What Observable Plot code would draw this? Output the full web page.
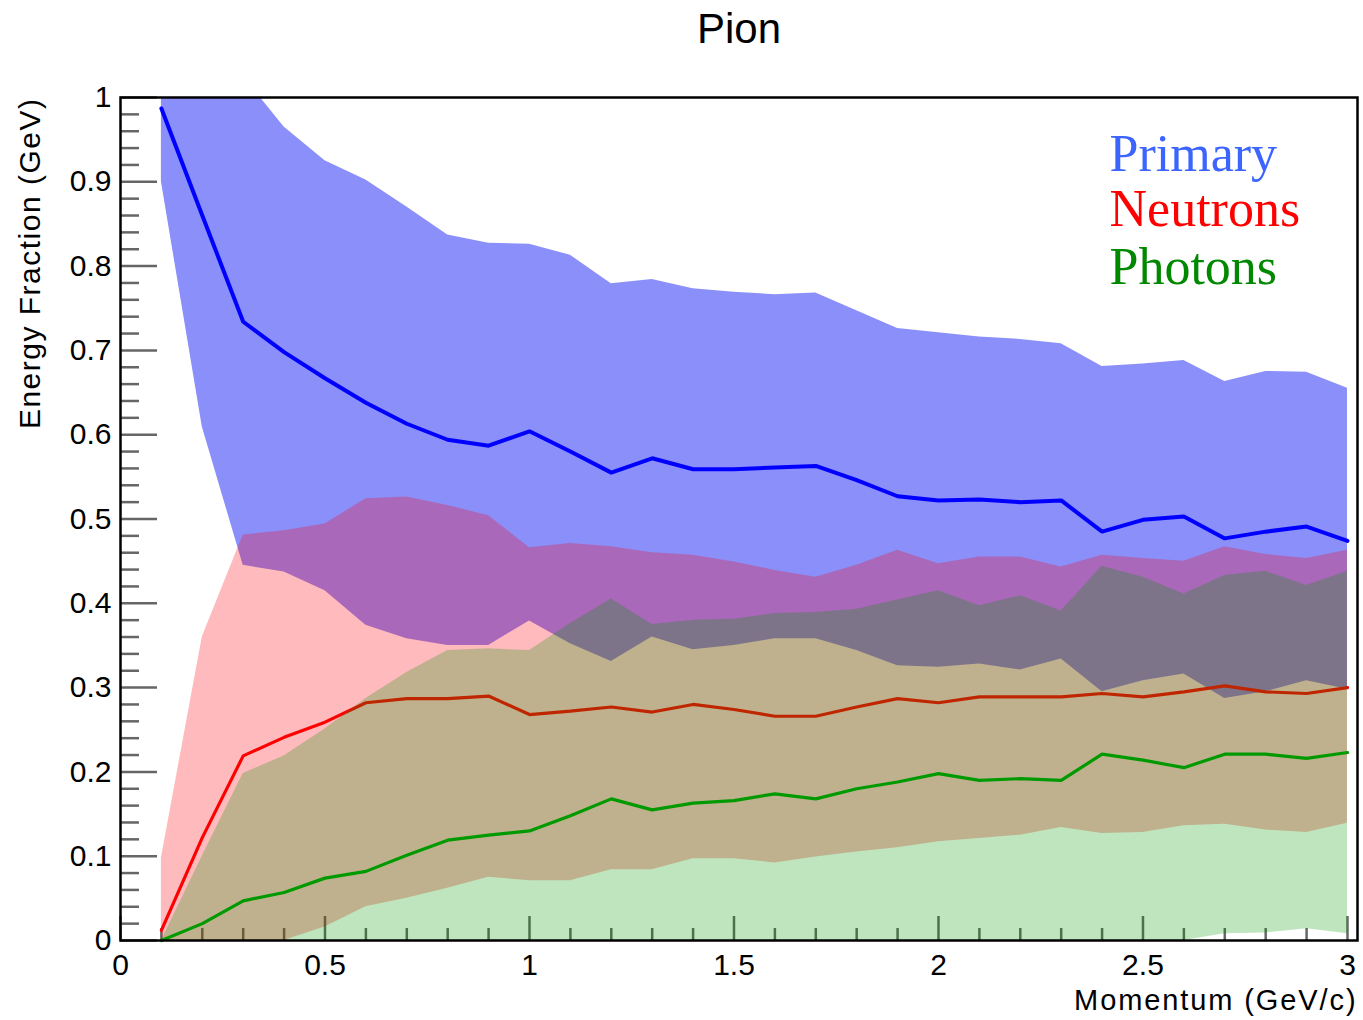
<!DOCTYPE html>
<html>
<head>
<meta charset="utf-8">
<title>Pion</title>
<script src="https://cdn.jsdelivr.net/npm/d3@7"></script>
<script src="https://cdn.jsdelivr.net/npm/@observablehq/plot@0.6"></script>
<style>
  html, body { margin: 0; padding: 0; background: #ffffff; }
  #chart { width: 1363px; height: 1020px; }
</style>
</head>
<body>
<div id="chart"></div>
<script>
// Energy fractions carried by the primary pion, neutrons and photons
const title = "Pion";
const xLabel = "Momentum (GeV/c)";
const yLabel = "Energy Fraction (GeV)";

const momentum = [0.1, 0.2, 0.3, 0.4, 0.5, 0.6, 0.7, 0.8, 0.9, 1.0,
                  1.1, 1.2, 1.3, 1.4, 1.5, 1.6, 1.7, 1.8, 1.9, 2.0,
                  2.1, 2.2, 2.3, 2.4, 2.5, 2.6, 2.7, 2.8, 2.9, 3.0];

// Primary: mean with the band edges
const primaryMean = [0.987, 0.860, 0.734, 0.698, 0.667, 0.638, 0.613, 0.594, 0.587, 0.604,
                     0.580, 0.555, 0.572, 0.559, 0.559, 0.561, 0.563, 0.546, 0.527, 0.522,
                     0.523, 0.520, 0.522, 0.485, 0.499, 0.503, 0.477, 0.485, 0.491, 0.474];
const primaryHigh = [1.070, 1.050, 1.025, 0.965, 0.925, 0.902, 0.870, 0.837, 0.827, 0.826,
                     0.813, 0.779, 0.784, 0.773, 0.769, 0.766, 0.768, 0.747, 0.726, 0.721,
                     0.716, 0.713, 0.708, 0.681, 0.684, 0.688, 0.663, 0.675, 0.674, 0.655];
const primaryLow  = [0.900, 0.609, 0.445, 0.437, 0.415, 0.374, 0.358, 0.350, 0.350, 0.379,
                     0.352, 0.331, 0.360, 0.345, 0.350, 0.358, 0.358, 0.344, 0.326, 0.324,
                     0.328, 0.321, 0.334, 0.295, 0.308, 0.316, 0.287, 0.295, 0.308, 0.298];

// Neutrons
const neutronMean = [0.012, 0.122, 0.219, 0.241, 0.259, 0.282, 0.287, 0.287, 0.290, 0.268,
                     0.272, 0.277, 0.271, 0.280, 0.274, 0.266, 0.266, 0.277, 0.287, 0.282,
                     0.289, 0.289, 0.289, 0.293, 0.289, 0.295, 0.302, 0.295, 0.293, 0.300];
const neutronHigh = [0.098, 0.360, 0.481, 0.486, 0.494, 0.524, 0.526, 0.516, 0.504, 0.466,
                     0.471, 0.467, 0.460, 0.457, 0.449, 0.439, 0.431, 0.445, 0.463, 0.447,
                     0.455, 0.455, 0.443, 0.457, 0.453, 0.450, 0.467, 0.458, 0.453, 0.463];
const neutronLow  = [0.000, 0.000, 0.000, 0.000, 0.016, 0.040, 0.050, 0.062, 0.075, 0.071,
                     0.071, 0.084, 0.084, 0.097, 0.097, 0.092, 0.099, 0.105, 0.110, 0.117,
                     0.121, 0.125, 0.134, 0.127, 0.128, 0.136, 0.138, 0.131, 0.128, 0.139];

// Photons
const photonMean = [0.000, 0.020, 0.047, 0.057, 0.074, 0.082, 0.101, 0.119, 0.125, 0.130,
                    0.148, 0.168, 0.155, 0.163, 0.166, 0.174, 0.168, 0.180, 0.188, 0.198,
                    0.190, 0.192, 0.190, 0.221, 0.214, 0.205, 0.221, 0.221, 0.216, 0.223];
const photonHigh = [0.000, 0.100, 0.198, 0.219, 0.251, 0.287, 0.318, 0.344, 0.346, 0.344,
                    0.376, 0.405, 0.375, 0.380, 0.381, 0.388, 0.389, 0.393, 0.404, 0.415,
                    0.397, 0.409, 0.391, 0.444, 0.431, 0.411, 0.433, 0.438, 0.421, 0.438];
const photonLow  = [0.000, 0.000, 0.000, 0.000, 0.000, 0.000, 0.000, 0.000, 0.000, 0.000,
                    0.000, 0.000, 0.000, 0.000, 0.000, 0.000, 0.000, 0.000, 0.000, 0.000,
                    0.000, 0.000, 0.000, 0.000, 0.000, 0.000, 0.008, 0.009, 0.014, 0.008];

const seriesNames = ["Primary", "Neutrons", "Photons"];

const xTickLabels = [0, 0.5, 1, 1.5, 2, 2.5, 3];
const yTickLabels = [0, 0.1, 0.2, 0.3, 0.4, 0.5, 0.6, 0.7, 0.8, 0.9, 1];

// Styling per series: translucent band, mean line, legend colour
const styles = {
  Primary:  {band: "rgb(0,10,245)", bandOpacity: 0.46, line: "#0000ff", width: 4,   legend: "#3c64ff"},
  Neutrons: {band: "rgb(255,0,10)", bandOpacity: 0.27, line: "#ff0000", width: 3.2, legend: "#ff0000"},
  Photons:  {band: "rgb(0,153,0)",  bandOpacity: 0.25, line: "#009a00", width: 3.2, legend: "#008800"}
};

const columns = {
  Primary:  [primaryMean, primaryLow, primaryHigh],
  Neutrons: [neutronMean, neutronLow, neutronHigh],
  Photons:  [photonMean, photonLow, photonHigh]
};

const rowsFor = (name) => {
  const [mean, low, high] = columns[name];
  return momentum.map((p, i) => ({p, mean: mean[i], low: low[i], high: high[i]}));
};

// Minor ticks: every 0.02 on y, every 0.1 on x
const yMinor = d3.range(0, 51).map(i => i / 50).filter(v => Math.abs(v * 10 - Math.round(v * 10)) > 1e-9);
const xMinor = d3.range(0, 31).map(i => i / 10).filter(v => Math.abs(v * 2 - Math.round(v * 2)) > 1e-9);

const tickColor = "#666666";
const sans = "'Liberation Sans', Arial, Helvetica, sans-serif";
const serif = "'Liberation Serif', 'Times New Roman', serif";

const marks = [
  Plot.ruleY(yMinor, {x1: 0, x2: 0, insetRight: -19, stroke: tickColor, strokeWidth: 2.5}),
  Plot.ruleY(yTickLabels, {x1: 0, x2: 0, insetRight: -37, stroke: tickColor, strokeWidth: 2.5}),
  Plot.ruleX(xMinor, {y1: 0, y2: 0, insetTop: -12, stroke: tickColor, strokeWidth: 2.5}),
  Plot.ruleX(xTickLabels, {y1: 0, y2: 0, insetTop: -24, stroke: tickColor, strokeWidth: 2.5})
];

for (const name of seriesNames) {
  const s = styles[name];
  const rows = rowsFor(name);
  marks.push(
    Plot.areaY(rows, {x: "p", y1: "low", y2: "high", fill: s.band, fillOpacity: s.bandOpacity, curve: "linear", clip: true}),
    Plot.line(rows, {x: "p", y: "mean", stroke: s.line, strokeWidth: s.width, curve: "linear", strokeLinejoin: "miter"})
  );
}

marks.push(
  Plot.frame({stroke: "#000000", strokeWidth: 2.5}),
  // tick labels
  Plot.text(yTickLabels, {x: 0, y: d => d, text: d => String(d), textAnchor: "end", lineAnchor: "middle", dx: -9, fontSize: 30, fill: "#000"}),
  Plot.text(xTickLabels, {x: d => d, y: 0, text: d => String(d), textAnchor: "middle", lineAnchor: "bottom", dy: 34, fontSize: 30, fill: "#000"}),
  // titles
  Plot.text([title], {text: d => d, frameAnchor: "top", lineAnchor: "bottom", dy: -55, fontSize: 42, fill: "#000"}),
  Plot.text([xLabel], {text: d => d, frameAnchor: "bottom-right", textAnchor: "end", lineAnchor: "bottom", dy: 69, fontSize: 29, fill: "#000"}),
  Plot.text([yLabel], {text: d => d, frameAnchor: "top-left", textAnchor: "end", lineAnchor: "middle", rotate: -90, dx: -90, fontSize: 30, fill: "#000"})
);

// legend entries, stacked in the upper right of the frame
seriesNames.forEach((name, i) => {
  marks.push(Plot.text([name], {
    text: d => d, frameAnchor: "top-left", textAnchor: "start", lineAnchor: "bottom",
    dx: 989, dy: [73, 128, 186][i], fontSize: 52, fontFamily: serif, fill: styles[name].legend
  }));
});

const chart = Plot.plot({
  width: 1363,
  height: 1020,
  marginTop: 97,
  marginRight: 6,
  marginBottom: 80,
  marginLeft: 120,
  x: {domain: [0, 3.0245], axis: null},
  y: {domain: [0, 1], axis: null},
  style: {fontFamily: sans, background: "#ffffff", color: "#000000", overflow: "visible"},
  marks
});

d3.select(chart).selectAll("text")
  .filter(function () { return this.textContent === xLabel; })
  .style("letter-spacing", "1.9px");
d3.select(chart).selectAll("text")
  .filter(function () { return this.textContent === yLabel; })
  .style("letter-spacing", "1.5px");

document.getElementById("chart").appendChild(chart);
</script>
</body>
</html>
